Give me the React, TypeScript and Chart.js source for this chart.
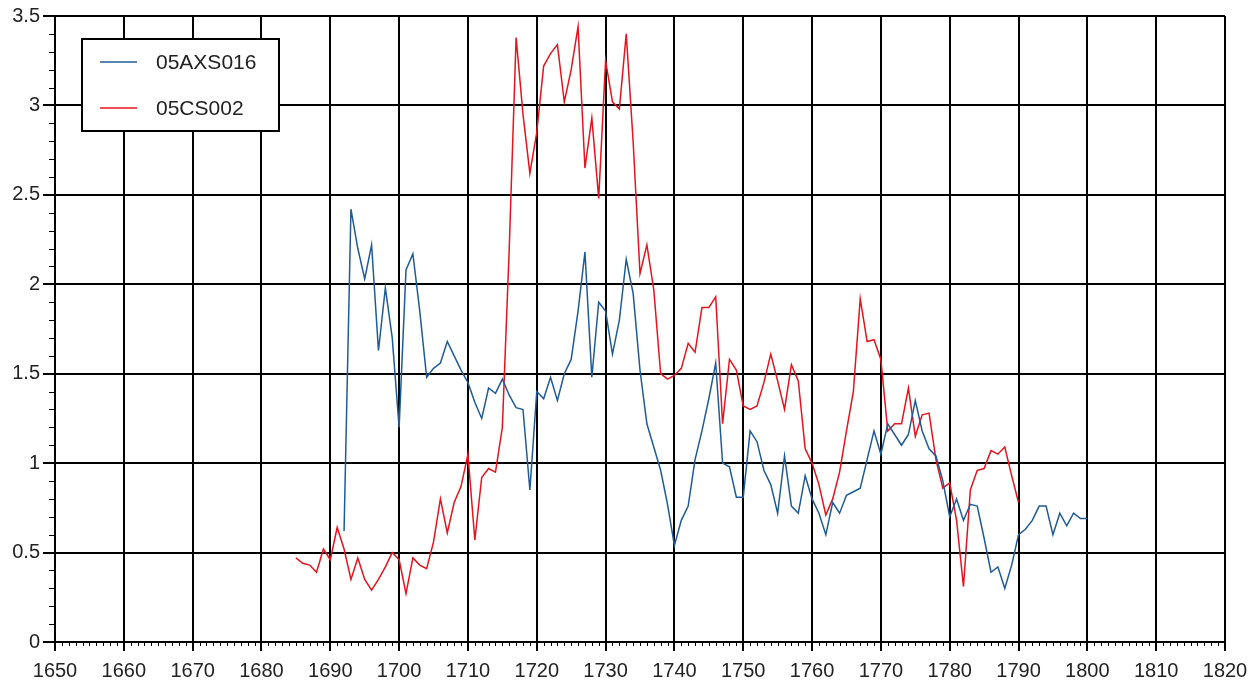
import React, { useEffect, useRef } from "react";
import { Chart, registerables } from "chart.js";

Chart.register(...registerables);

const X_MIN = 1650;
const X_MAX = 1820;
const X_STEP = 10;
const Y_MIN = 0;
const Y_MAX = 3.5;
const Y_STEP = 0.5;

const SERIES_NAMES = ["05AXS016", "05CS002"];
const SERIES_COLORS = ["#1f5b98", "#e3141c"];

const AXS_START_YEAR = 1692;
const AXS_VALUES = [
  0.62, 2.42, 2.2, 2.03, 2.22, 1.63, 1.98, 1.7, 1.2, 2.08,
  2.17, 1.85, 1.48, 1.53, 1.56, 1.68, 1.6, 1.52, 1.45, 1.34,
  1.25, 1.42, 1.39, 1.47, 1.38, 1.31, 1.3, 0.85, 1.4, 1.36,
  1.48, 1.35, 1.5, 1.58, 1.85, 2.18, 1.48, 1.9, 1.85, 1.61,
  1.8, 2.14, 1.95, 1.52, 1.22, 1.09, 0.96, 0.77, 0.54, 0.68,
  0.76, 1.02, 1.18, 1.36, 1.56, 1.0, 0.98, 0.81, 0.81, 1.18,
  1.12, 0.96, 0.88, 0.72, 1.04, 0.76, 0.72, 0.93, 0.8, 0.72,
  0.6, 0.78, 0.72, 0.82, 0.84, 0.86, 1.02, 1.18, 1.05, 1.22,
  1.16, 1.1, 1.16, 1.35, 1.18, 1.08, 1.04, 0.9, 0.7, 0.8,
  0.68, 0.77, 0.76, 0.58, 0.39, 0.42, 0.3, 0.43, 0.6, 0.63,
  0.68, 0.76, 0.76, 0.6, 0.72, 0.65, 0.72, 0.69, 0.69,
];

const CS_START_YEAR = 1685;
const CS_VALUES = [
  0.47, 0.44, 0.43, 0.39, 0.52, 0.46, 0.64, 0.52, 0.35, 0.47,
  0.35, 0.29, 0.35, 0.42, 0.5, 0.46, 0.27, 0.47, 0.43, 0.41,
  0.56, 0.8, 0.61, 0.78, 0.87, 1.05, 0.57, 0.92, 0.97, 0.95,
  1.2, 2.2, 3.38, 2.95, 2.62, 2.85, 3.22, 3.29, 3.34, 3.02,
  3.2, 3.44, 2.65, 2.93, 2.48, 3.25, 3.02, 2.98, 3.4, 2.8,
  2.06, 2.22, 1.97, 1.5, 1.47, 1.49, 1.53, 1.67, 1.62, 1.87,
  1.87, 1.93, 1.22, 1.58, 1.52, 1.32, 1.3, 1.32, 1.45, 1.61,
  1.46, 1.3, 1.55, 1.46, 1.08, 1.0, 0.88, 0.71, 0.8, 0.95,
  1.18, 1.4, 1.92, 1.68, 1.69, 1.58, 1.18, 1.22, 1.22, 1.42,
  1.15, 1.27, 1.28, 1.02, 0.86, 0.89, 0.68, 0.31, 0.85, 0.96,
  0.97, 1.07, 1.05, 1.09, 0.93, 0.78,
];

const FONT = "'Liberation Sans', Arial, sans-serif";

const toPoints = (start: number, values: number[]) =>
  values.map((v, i) => ({ x: start + i, y: v }));

const minorTicksPlugin = {
  id: "minorTicks",
  afterDraw(chart: any) {
    const { ctx, chartArea, scales } = chart;
    const x = scales.x;
    const y = scales.y;
    ctx.save();
    ctx.strokeStyle = "#000";
    ctx.lineWidth = 1;
    ctx.beginPath();
    for (let yr = X_MIN; yr <= X_MAX; yr++) {
      if ((yr - X_MIN) % X_STEP === 0) continue;
      const px = Math.round(x.getPixelForValue(yr)) + 0.5;
      ctx.moveTo(px, chartArea.bottom);
      ctx.lineTo(px, chartArea.bottom + 4);
    }
    for (let i = 1; i < 35; i++) {
      if (i % 5 === 0) continue;
      const py = Math.round(y.getPixelForValue(i / 10)) + 0.5;
      ctx.moveTo(chartArea.left - 6, py);
      ctx.lineTo(chartArea.left, py);
    }
    ctx.stroke();
    ctx.restore();
  },
};

const legendBoxPlugin = {
  id: "legendBox",
  afterDatasetsDraw(chart: any) {
    const { ctx, chartArea } = chart;
    const left = chartArea.left + 27;
    const top = chartArea.top + 23;
    const w = 197;
    const h = 92;
    ctx.save();
    ctx.fillStyle = "#fff";
    ctx.fillRect(left, top, w, h);
    ctx.strokeStyle = "#000";
    ctx.lineWidth = 2;
    ctx.strokeRect(left, top, w, h);
    ctx.font = `21px ${FONT}`;
    ctx.textBaseline = "middle";
    ctx.textAlign = "left";
    SERIES_NAMES.forEach((name, i) => {
      const yy = top + 23 + i * 46;
      ctx.strokeStyle = SERIES_COLORS[i];
      ctx.lineWidth = 1.5;
      ctx.beginPath();
      ctx.moveTo(left + 18, yy);
      ctx.lineTo(left + 55, yy);
      ctx.stroke();
      ctx.fillStyle = "#222";
      ctx.fillText(name, left + 74, yy + 1);
    });
    ctx.restore();
  },
};

export default function App() {
  const canvasRef = useRef<HTMLCanvasElement | null>(null);

  useEffect(() => {
    if (!canvasRef.current) return;
    const chart = new Chart(canvasRef.current, {
      type: "line",
      data: {
        datasets: [
          {
            label: SERIES_NAMES[0],
            data: toPoints(AXS_START_YEAR, AXS_VALUES),
            borderColor: SERIES_COLORS[0],
            borderWidth: 1.5,
            pointRadius: 0,
            tension: 0,
          },
          {
            label: SERIES_NAMES[1],
            data: toPoints(CS_START_YEAR, CS_VALUES),
            borderColor: SERIES_COLORS[1],
            borderWidth: 1.5,
            pointRadius: 0,
            tension: 0,
          },
        ],
      },
      options: {
        animation: false,
        responsive: true,
        maintainAspectRatio: false,
        layout: { padding: { top: 16, right: 34, left: 0, bottom: 0 } },
        plugins: {
          legend: { display: false },
          tooltip: { enabled: false },
        },
        scales: {
          x: {
            type: "linear",
            min: X_MIN,
            max: X_MAX,
            afterFit: (s: any) => {
              s.height = 40;
            },
            ticks: {
              stepSize: X_STEP,
              autoSkip: false,
              maxRotation: 0,
              padding: 8,
              color: "#222",
              font: { family: FONT, size: 20 },
              callback: (v: any) => String(v),
            },
            grid: { color: "#000", lineWidth: 2, tickLength: 9, tickColor: "#000" },
            border: { color: "#000", width: 2 },
          },
          y: {
            min: Y_MIN,
            max: Y_MAX,
            afterFit: (s: any) => {
              s.width = 55;
            },
            ticks: {
              stepSize: Y_STEP,
              padding: 3,
              color: "#222",
              font: { family: FONT, size: 20 },
              callback: (v: any) => String(v),
            },
            grid: { color: "#000", lineWidth: 2, tickLength: 12, tickColor: "#000" },
            border: { color: "#000", width: 2 },
          },
        },
      },
      plugins: [minorTicksPlugin, legendBoxPlugin],
    });
    return () => chart.destroy();
  }, []);

  return (
    <div style={{ position: "fixed", left: 0, top: 0, width: 1259, height: 682, background: "#fff" }}>
      <canvas ref={canvasRef} />
    </div>
  );
}
